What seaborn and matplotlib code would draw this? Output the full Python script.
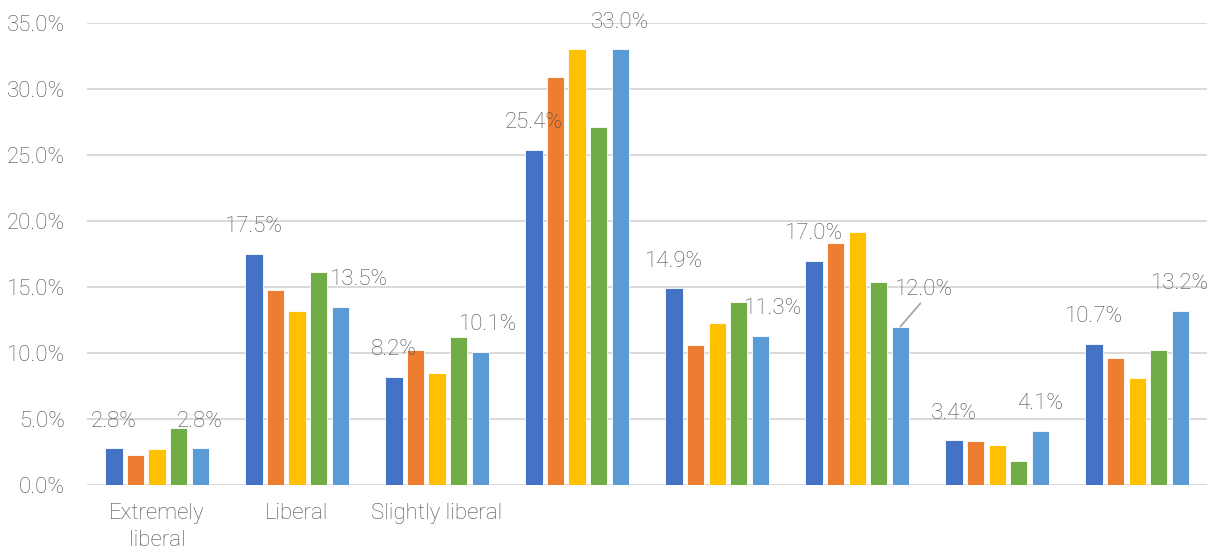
import pandas as pd
import matplotlib
matplotlib.use("Agg")
import matplotlib.pyplot as plt
from matplotlib.ticker import FuncFormatter
import seaborn as sns

# categories (only first three are labelled in the chart)
categories = ["Extremely liberal", "Liberal", "Slightly liberal", "Moderate",
              "Slightly conservative", "Conservative", "Extremely conservative", "Other"]
tick_labels = ["Extremely\nliberal", "Liberal", "Slightly liberal", "", "", "", "", ""]
series = ["Series 1", "Series 2", "Series 3", "Series 4", "Series 5"]

s1 = [2.8, 17.5, 8.2, 25.4, 14.9, 17.0, 3.4, 10.7]
s2 = [2.3, 14.8, 10.2, 30.9, 10.6, 18.3, 3.3, 9.6]
s3 = [2.7, 13.2, 8.5, 33.0, 12.3, 19.2, 3.0, 8.1]
s4 = [4.3, 16.1, 11.2, 27.1, 13.9, 15.4, 1.8, 10.2]
s5 = [2.8, 13.5, 10.1, 33.0, 11.3, 12.0, 4.1, 13.2]

colors = ["#4472C4", "#ED7D31", "#FFC000", "#70AD47", "#5B9BD5"]
gray = "#4D4D4D"

rows = []
for name, vals in zip(series, [s1, s2, s3, s4, s5]):
    for cat, v in zip(categories, vals):
        rows.append({"category": cat, "series": name, "value": v})
df = pd.DataFrame(rows)

sns.set_style("white")
plt.rcParams["font.family"] = ["Roboto", "DejaVu Sans"]
plt.rcParams["font.weight"] = "light"
fsize = 16

fig = plt.figure(figsize=(12.17, 5.55), dpi=100)
ax = fig.add_axes([0.0715, 0.1261, 0.9205, 0.8325])

sns.barplot(data=df, x="category", y="value", hue="series", order=categories,
            hue_order=series, palette=colors, width=0.77, gap=0.2,
            saturation=1, edgecolor="white", linewidth=0.6, legend=False, ax=ax)

ax.set_xlim(-0.5, 7.5)
ax.set_ylim(0, 35)
ax.set_yticks(range(0, 36, 5))
ax.yaxis.set_major_formatter(FuncFormatter(lambda v, p: f"{v:.1f}%"))
ax.set_xticks(range(len(categories)))
ax.set_xticklabels(tick_labels)
ax.set_xlabel("")
ax.set_ylabel("")
ax.tick_params(axis="both", length=0, labelsize=fsize, labelcolor=gray)
ax.tick_params(axis="y", pad=16)
ax.tick_params(axis="x", pad=13)
for lbl in ax.get_xticklabels():
    lbl.set_linespacing(1.4)
for sp in ax.spines.values():
    sp.set_visible(False)
ax.yaxis.grid(True, color="#D9D9D9", linewidth=1.4)
ax.set_axisbelow(True)

# data labels for first and last series, nudged like the original
nudges = {(4, 1): (19, 27), (4, 2): (8, 27), (4, 4): (13, 27), (4, 5): (24, 37)}
for si in (0, 4):
    for gi, bar in enumerate(ax.containers[si]):
        h = bar.get_height()
        xc = bar.get_x() + bar.get_width() / 2
        dx, dy = nudges.get((si, gi), (0, 27))
        arrow = None
        if (si, gi) == (4, 5):
            arrow = dict(arrowstyle="-", color="#A6A6A6", lw=1.3,
                         shrinkA=0, shrinkB=0, relpos=(0.45, -0.1))
        ax.annotate(f"{h:.1f}%", xy=(xc, h), xytext=(dx, dy),
                    textcoords="offset pixels", ha="center", va="center",
                    fontsize=fsize, color=gray,
                    arrowprops=arrow, annotation_clip=False)

fig.savefig("out.png", dpi=100)
